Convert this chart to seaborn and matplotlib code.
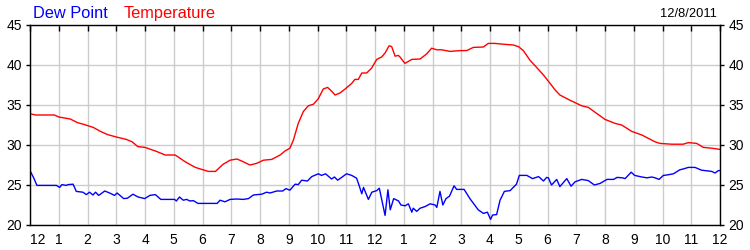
import matplotlib
matplotlib.use("Agg")
import matplotlib.pyplot as plt
import seaborn as sns
import pandas as pd

# ---- data ----
temp_hours = [0.0, 0.2, 0.85, 1.0, 1.4, 1.65, 1.85, 2.2, 2.45, 2.7, 3.0, 3.35, 3.55, 3.75, 4.0,
              4.4, 4.7, 5.05, 5.4, 5.75, 6.2, 6.45, 6.72, 6.96, 7.2, 7.36, 7.65, 7.88, 8.12,
              8.41, 8.7, 8.87, 9.04, 9.16, 9.33, 9.51, 9.68, 9.86, 10.03, 10.2, 10.35, 10.5,
              10.61, 10.78, 10.96, 11.19, 11.3, 11.42, 11.54, 11.71, 11.88, 12.06, 12.23,
              12.35, 12.49, 12.58, 12.7, 12.81, 12.87, 13.04, 13.28, 13.57, 13.8, 13.97,
              14.15, 14.32, 14.61, 14.96, 15.19, 15.42, 15.77, 15.94, 16.17, 16.46, 16.81,
              16.99, 17.16, 17.39, 17.62, 17.86, 18.09, 18.26, 18.43, 18.78, 19.19, 19.42,
              20.0, 20.35, 20.58, 20.93, 21.28, 21.74, 21.91, 22.32, 22.72, 22.9, 23.19,
              23.42, 23.71, 24.0]
temp_vals = [33.9, 33.75, 33.75, 33.5, 33.25, 32.8, 32.6, 32.2, 31.7, 31.3, 31.0, 30.7, 30.4,
             29.8, 29.7, 29.2, 28.75, 28.75, 27.9, 27.2, 26.7, 26.7, 27.6, 28.1, 28.25, 28.0,
             27.5, 27.7, 28.1, 28.2, 28.75, 29.25, 29.6, 30.6, 32.7, 34.2, 34.9, 35.1, 35.8,
             37.0, 37.2, 36.7, 36.25, 36.5, 37.0, 37.7, 38.2, 38.2, 39.0, 39.0, 39.6, 40.7,
             41.0, 41.5, 42.4, 42.3, 41.1, 41.2, 41.0, 40.2, 40.7, 40.75, 41.4, 42.1, 41.9,
             41.9, 41.7, 41.8, 41.8, 42.2, 42.25, 42.7, 42.7, 42.6, 42.5, 42.3, 41.8, 40.6,
             39.7, 38.75, 37.7, 36.9, 36.25, 35.6, 34.9, 34.7, 33.2, 32.7, 32.5, 31.7, 31.25,
             30.4, 30.2, 30.1, 30.1, 30.3, 30.2, 29.7, 29.6, 29.45]

dew_hours = [0.0, 0.14, 0.24, 0.92, 1.03, 1.11, 1.26, 1.32, 1.5, 1.61, 1.84, 1.96, 2.07, 2.19,
             2.28, 2.39, 2.6, 2.77, 2.94, 3.03, 3.26, 3.39, 3.58, 3.76, 3.99, 4.17, 4.36, 4.55,
             5.03, 5.09, 5.2, 5.33, 5.45, 5.56, 5.68, 5.84, 6.51, 6.61, 6.78, 6.96, 7.19, 7.42,
             7.6, 7.77, 8.06, 8.23, 8.35, 8.58, 8.79, 8.9, 9.04, 9.22, 9.33, 9.45, 9.65, 9.8,
             10.03, 10.14, 10.28, 10.49, 10.59, 10.7, 10.84, 11.01, 11.19, 11.36, 11.46, 11.54,
             11.6, 11.77, 11.89, 12.06, 12.15, 12.35, 12.45, 12.53, 12.65, 12.82, 12.9, 13.05,
             13.16, 13.28, 13.33, 13.45, 13.57, 13.74, 13.92, 14.09, 14.15, 14.26, 14.36,
             14.47, 14.59, 14.75, 14.84, 15.1, 15.3, 15.59, 15.77, 15.91, 16.02, 16.09, 16.23,
             16.35, 16.5, 16.7, 16.92, 17.02, 17.28, 17.48, 17.69, 17.86, 17.97, 18.03, 18.14,
             18.32, 18.43, 18.67, 18.82, 18.96, 19.19, 19.42, 19.63, 19.83, 20.07, 20.3, 20.42,
             20.6, 20.7, 20.91, 21.03, 21.28, 21.46, 21.63, 21.74, 21.88, 22.03, 22.15, 22.38,
             22.6, 22.72, 22.9, 23.13, 23.36, 23.71, 23.83, 23.94, 24.0]
dew_vals = [26.8, 25.8, 24.95, 24.95, 24.7, 25.05, 24.95, 25.05, 25.1, 24.2, 24.1, 23.8, 24.1,
            23.75, 24.1, 23.7, 24.25, 24.0, 23.7, 24.0, 23.3, 23.35, 23.85, 23.5, 23.3, 23.7,
            23.8, 23.2, 23.2, 23.0, 23.5, 23.1, 23.2, 23.0, 23.05, 22.7, 22.7, 23.1, 22.9, 23.2,
            23.25, 23.2, 23.3, 23.75, 23.85, 24.1, 24.0, 24.25, 24.25, 24.55, 24.35, 25.1, 25.05,
            25.6, 25.5, 26.05, 26.4, 26.2, 26.4, 25.75, 26.0, 25.6, 25.95, 26.4, 26.2, 25.85,
            24.8, 23.9, 24.7, 23.2, 24.1, 24.3, 24.6, 21.2, 24.4, 21.9, 23.3, 23.0, 22.5, 22.4,
            22.65, 21.6, 22.1, 21.7, 22.1, 22.3, 22.65, 22.5, 22.2, 24.2, 22.5, 23.3, 23.6, 24.9,
            24.45, 24.45, 23.3, 21.9, 21.45, 21.6, 20.7, 21.25, 21.3, 23.1, 24.2, 24.3, 25.1,
            26.2, 26.2, 25.8, 26.05, 25.5, 25.95, 25.9, 25.0, 25.7, 24.8, 25.8, 24.85, 25.4, 25.7,
            25.55, 25.0, 25.2, 25.7, 25.7, 25.95, 25.9, 25.8, 26.6, 26.2, 26.0, 25.9, 26.0, 25.9,
            25.7, 26.2, 26.25, 26.4, 26.9, 27.0, 27.2, 27.2, 26.85, 26.7, 26.5, 26.8, 26.8]

x_ticks = list(range(0, 25))
x_labels = ["12", "1", "2", "3", "4", "5", "6", "7", "8", "9", "10", "11",
            "12", "1", "2", "3", "4", "5", "6", "7", "8", "9", "10", "11", "12"]
y_ticks = [20, 25, 30, 35, 40, 45]
series_names = ["Dew Point", "Temperature"]
date_label = "12/8/2011"

# ---- style ----
sns.set_style("white")
plt.rcParams["font.family"] = ["Liberation Sans", "DejaVu Sans"]

fig = plt.figure(figsize=(7.5, 2.5), dpi=100)
ax = fig.add_axes([30 / 750, 1 - 225 / 250, 690 / 750, 200 / 250])

df_t = pd.DataFrame({"hour": temp_hours, "value": temp_vals})
df_d = pd.DataFrame({"hour": dew_hours, "value": dew_vals})
sns.lineplot(data=df_t, x="hour", y="value", color="#ff0000", lw=1.0, ax=ax,
             estimator=None, sort=False)
sns.lineplot(data=df_d, x="hour", y="value", color="#0000ff", lw=1.0, ax=ax,
             estimator=None, sort=False)

ax.set_xlim(0, 24)
ax.set_ylim(20, 45)
ax.set_xticks(x_ticks)
ax.set_xticklabels(x_labels)
ax.set_yticks(y_ticks)
ax.set_xlabel("")
ax.set_ylabel("")

ax.grid(True, color="#cccccc", lw=1.0)
ax.set_axisbelow(True)
for s in ax.spines.values():
    s.set_visible(True)
    s.set_color("black")
    s.set_linewidth(1.0)

ax.tick_params(axis="x", which="both", bottom=False, top=True, direction="in",
               length=4, width=1, color="black", labelsize=10, pad=6, labelcolor="black")
ax.tick_params(axis="y", which="both", left=True, right=True, direction="out",
               length=3, width=1, color="black", labelsize=10, pad=3,
               labelleft=True, labelright=True, labelcolor="black")
# first label sits right of the axis corner
ax.get_xticklabels()[0].set_ha("left")

fig.text(33 / 750, 1 - 18 / 250, series_names[0], color="#0000ff", fontsize=11.8,
         ha="left", va="baseline")
fig.text(124 / 750, 1 - 18 / 250, series_names[1], color="#ff0000", fontsize=11.8,
         ha="left", va="baseline")
fig.text(717 / 750, 1 - 17.3 / 250, date_label, color="black", fontsize=9.3,
         ha="right", va="baseline")

fig.savefig("out.png", dpi=100)
